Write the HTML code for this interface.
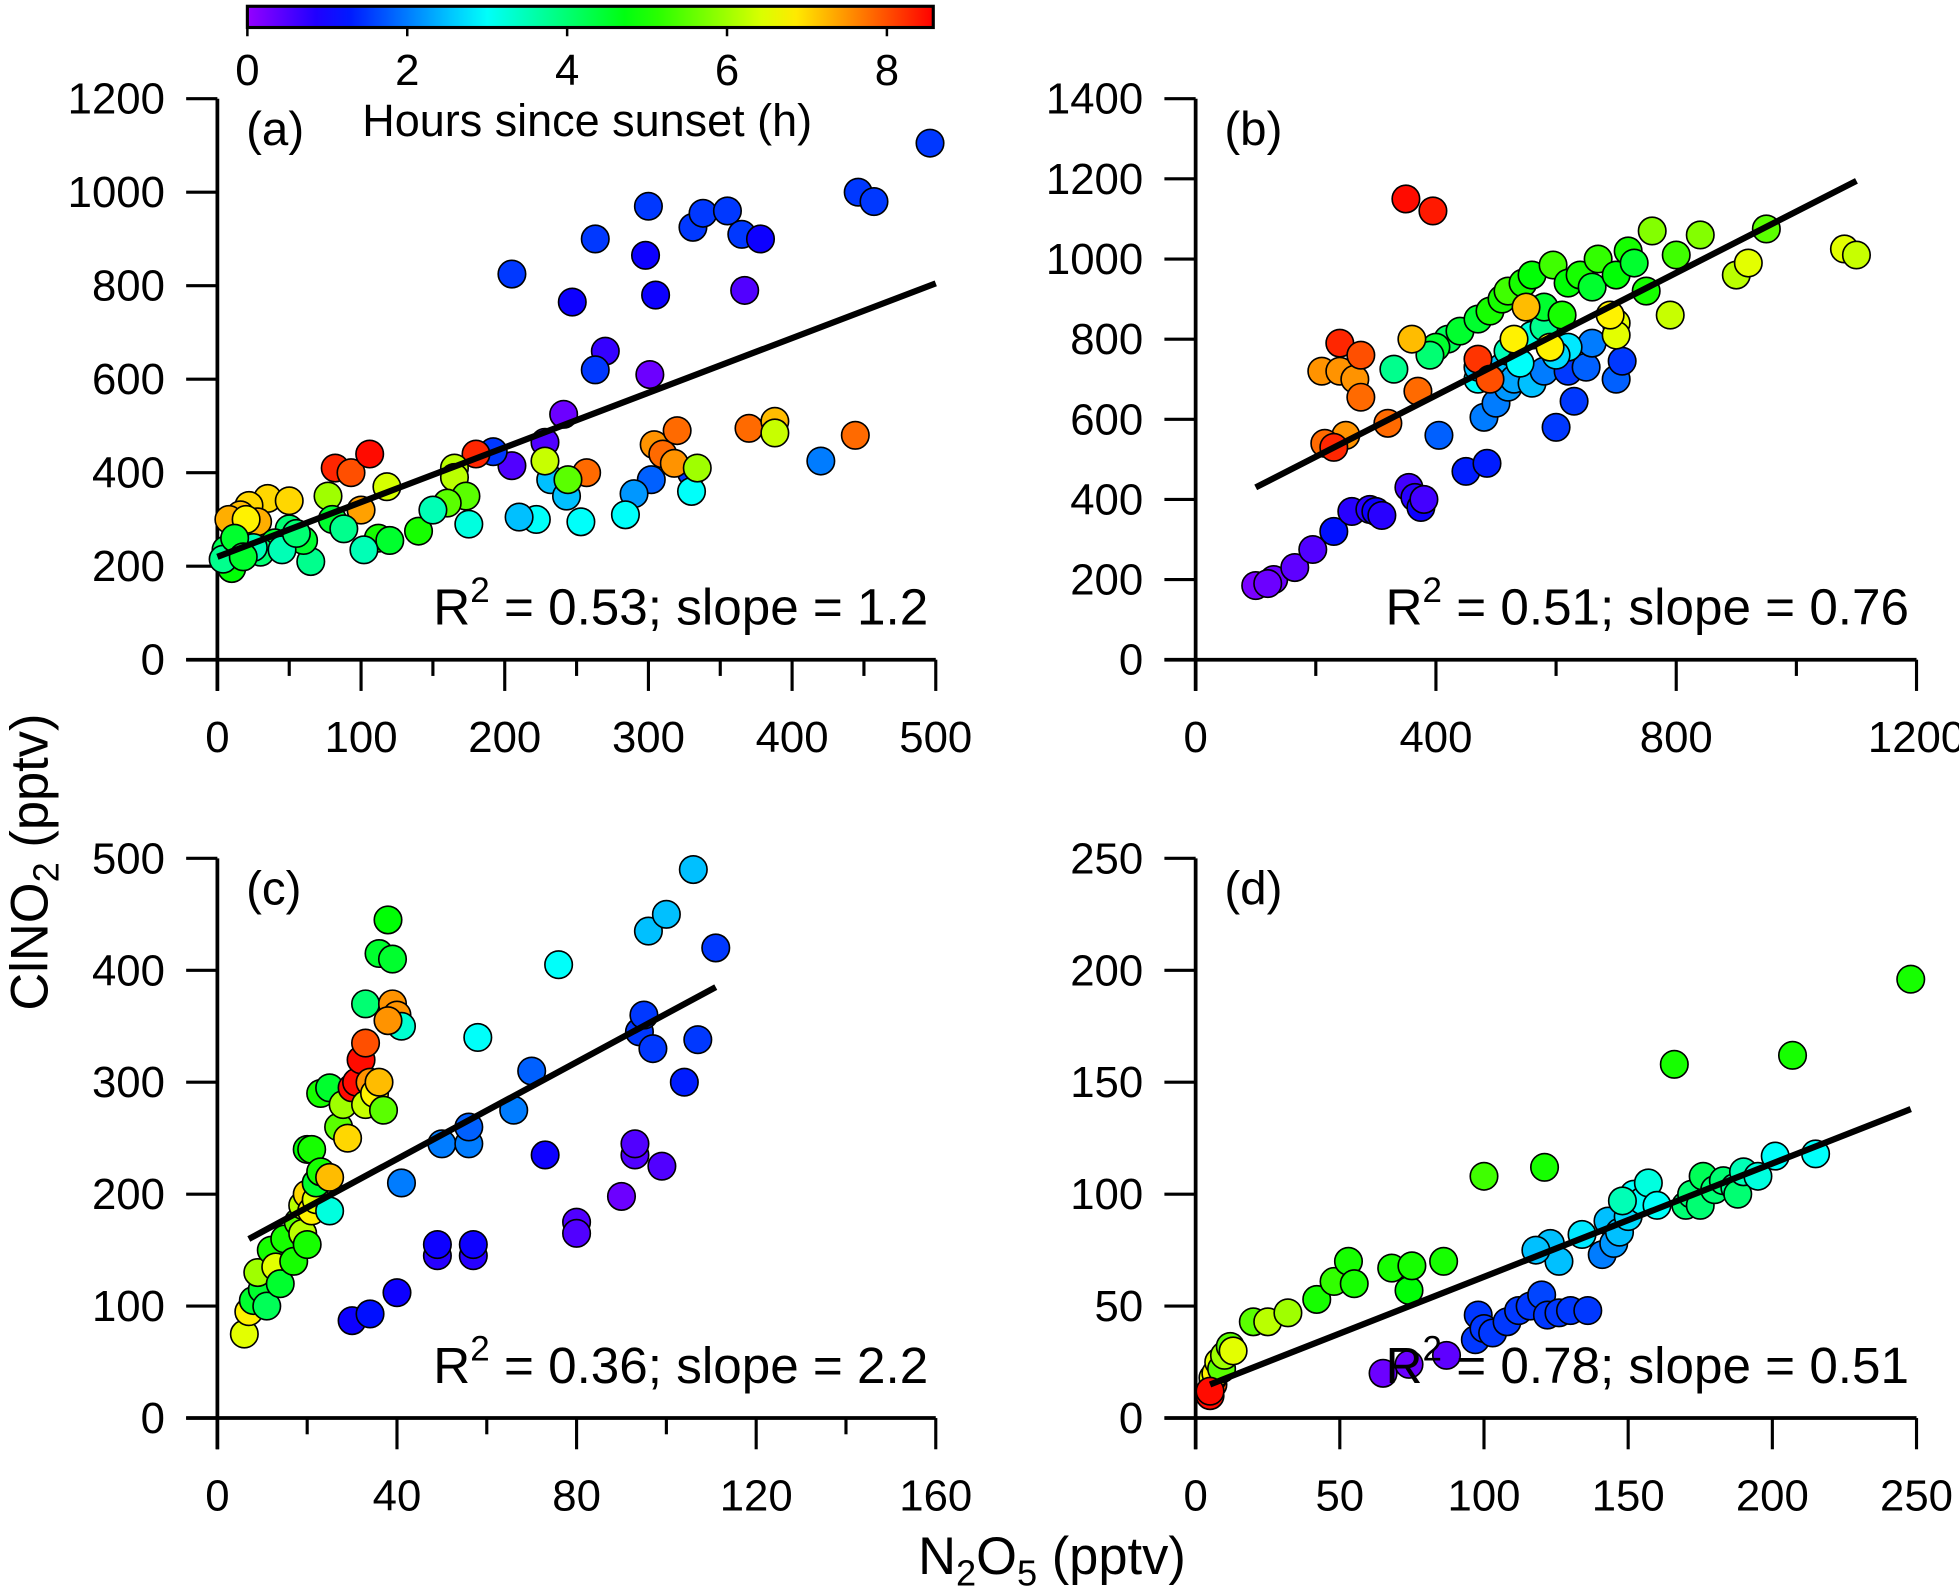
<!DOCTYPE html>
<html><head><meta charset="utf-8"><style>
html,body{margin:0;padding:0;background:#fff;}
svg{display:block;font-family:"Liberation Sans",Arial,sans-serif;}
</style></head><body>
<svg id="fig" width="1959" height="1588" viewBox="0 0 1568 1271" xmlns="http://www.w3.org/2000/svg">
<defs>
<linearGradient id="cbgrad" x1="0" x2="1" y1="0" y2="0"></linearGradient>
</defs>
<g id="cb"></g>
<g id="plots"></g>
<text transform="translate(38,690) rotate(-90)" text-anchor="middle" font-size="42">ClNO<tspan font-size="29" dy="9">2</tspan><tspan dy="-9"> (pptv)</tspan></text>
<text x="842" y="1260" text-anchor="middle" font-size="42">N<tspan font-size="29" dy="9">2</tspan><tspan dy="-9">O</tspan><tspan font-size="29" dy="9">5</tspan><tspan dy="-9"> (pptv)</tspan></text>
</svg>
<script>
// ---- data ----
const aX=[205,247,263,298,300,305,331,338,355,365,378,367,270,263,301,241,228,205,192,446,457,496,420,330,302,290,284,330,253,222,210,232,243,82,93,106,180,257,304,310,320,318,370,388,444,35,50,22,16,8,28,100,20,118,77,165,165,173,160,228,244,334,388,112,140,120,102,65,150,175,60,50,40,30,25,10,6,4,12,45,55,80,88,18];
const aY=[825,765,900,865,970,780,925,955,960,910,900,790,660,620,610,525,465,415,445,1000,980,1105,425,400,385,355,310,360,295,300,305,385,350,410,400,440,440,400,460,440,490,420,495,510,480,345,340,330,310,300,295,320,300,370,350,410,390,350,335,425,385,410,485,260,275,255,235,210,320,290,255,280,250,230,240,195,235,215,260,235,270,300,280,220];
const aH=[1.5,1,1.5,1,1.5,1,1.5,1.5,1.5,1.5,1,0.5,0.7,1.5,0.3,0.3,0.5,0.5,1.5,1.5,1.5,1.5,2,1.5,1.8,2.2,3,3,3,3,2.5,2.5,2.5,8.3,8,8.5,8.3,7.8,7.5,7.8,7.8,7.5,7.8,7.2,7.8,7,7,7,7.2,7.3,7.3,7.4,6.8,6.4,6,6.2,6.2,5.5,5.5,6.3,5.5,6,6.3,5,5,4.5,3.5,3.8,3.5,3.2,4.5,4,4.5,4,3.5,4.8,4.2,3.8,4.5,3.5,4,4.5,3.8,4.5];
const aFit=[[0,220],[500,805]];

const bX=[100,130,120,165,195,230,260,290,300,310,355,365,375,380,450,485,405,480,500,520,510,530,560,580,600,620,630,650,660,700,710,620,600,560,520,540,470,470,580,420,400,390,330,440,470,490,510,520,545,560,580,595,610,620,640,660,670,700,720,730,750,760,800,840,950,900,920,1080,1100,790,700,700,690,590,530,550,360,370,320,250,215,210,240,265,275,240,275,350,395,470,490,230];
const bY=[185,200,190,230,275,320,370,375,370,360,430,405,380,400,470,490,560,605,640,680,730,700,690,720,580,720,645,730,790,700,745,780,760,810,770,740,700,730,830,800,780,760,725,820,850,870,900,920,940,960,880,985,860,940,960,930,1000,960,1020,990,920,1070,1010,1060,1075,960,990,1025,1010,860,840,810,860,780,800,880,800,670,590,560,540,720,720,700,655,790,760,1150,1120,750,700,530];
const bH=[0.2,0.3,0.3,0.4,0.5,1.2,0.8,0.8,1,0.8,0.6,0.8,1,0.6,1.3,1.3,1.8,2,2,2.2,2.5,2.3,2.5,2,1.5,1.5,1.5,1.8,2,1.8,1.5,2.8,2.7,3.2,3.5,3,3,2.5,3.8,4.2,4.5,4,3.8,4.5,4.5,5,5,5.3,5,4.8,4.5,5.3,5,4.8,5,4.5,5.2,4.8,5,4.5,5,5.8,5.3,5.8,5.5,6.2,6.5,6.5,6.3,6.3,6.5,6.5,6.8,6.8,6.8,7.2,7.2,7.8,7.8,7.5,7.8,7.5,7.5,7.5,7.8,8.3,8,8.5,8.4,8.2,8,8.3];
const bFit=[[100,430],[1100,1195]];

const cX=[6,7,8,10,9,11,12,13,14,15,17,18,19,20,19,20,21,22,20,21,22,23,25,25,23,25,27,28,29,30,31,32,33,33,33,34,35,36,36,37,38,39,39,40,41,38,41,30,34,40,49,49,50,56,56,57,57,58,66,70,73,76,80,80,90,93,93,94,95,96,97,99,100,104,106,107,111];
const cY=[75,95,105,115,130,100,150,135,120,160,140,175,165,155,190,200,185,195,240,240,210,220,185,215,290,295,260,280,250,295,300,320,335,370,280,300,290,300,415,275,445,410,370,360,350,355,210,87,93,112,145,155,245,245,260,145,155,340,275,310,235,405,175,165,198,235,245,345,360,435,330,225,450,300,490,338,420];
const cH=[6.5,6.8,4.5,4.5,6,4.2,5,6.5,4.5,5,5,5.5,6.2,5,6.2,7,6.8,6.5,4.8,5,4.5,5,3.2,7.2,5,4.5,5.5,6,7,8.5,8.5,8.5,8,4,6.3,7.5,6.8,7.2,4.5,5.5,4.8,4.5,7.5,7.5,3.3,7.5,2,1,1.2,1,0.8,1,2,2,1.8,0.8,1,3,2,1.8,1,3,0.5,0.5,0.3,0.5,0.5,1.5,1.5,2.5,1.5,0.5,2.5,1.3,2.5,1.5,1.5];
const cFit=[[7,160],[111,385]];

const dX=[6,6,7,8,9,10,12,13,20,25,32,42,48,53,55,68,74,75,86,100,121,166,207,248,65,74,87,97,98,100,103,108,112,116,120,122,126,130,136,123,126,134,141,143,145,147,150,152,155,157,160,148,170,172,175,176,180,183,187,188,190,195,201,215,118,5,5];
const dY=[15,18,20,25,22,28,32,30,43,43,47,53,61,70,60,67,57,68,70,108,112,158,162,196,20,24,28,35,46,40,38,43,48,50,55,46,47,48,48,78,70,82,73,88,78,83,90,100,97,105,95,97,95,100,95,108,102,106,103,100,110,108,117,118,75,10,12];
const dH=[8,6.5,6.8,6.5,5.5,6,5.5,6.5,5.5,6.2,6,5,5.2,5,5,5,4.8,5,5,5.3,5,5,5,5,0.3,0.3,0.4,1.5,1.5,1.5,1.5,1.5,1.5,1.5,1.6,1.5,1.5,1.5,1.5,2.5,2.5,2.8,2,2.5,2.2,2.5,2.7,3,3,3.2,3,3.5,4,4,4,4.2,4,4,3.8,4,3.5,3.2,3,3,2.5,8.5,8.5];
const dFit=[[5,15],[248,138]];

const NS="http://www.w3.org/2000/svg";
function mk(tag,attrs,parent){const e=document.createElementNS(NS,tag);for(const k in attrs)e.setAttribute(k,attrs[k]);parent.appendChild(e);return e;}
const HMAX=8.58;
function col(h){const t=Math.max(0,Math.min(1,h/HMAX));return `hsl(${275-275*t},100%,50%)`;}

// colorbar
const cb=document.getElementById('cb');
const grad=document.getElementById('cbgrad');
for(let i=0;i<=20;i++){mk('stop',{offset:(i/20),'stop-color':col(i/20*HMAX)},grad);}
const cbX0=198,cbX1=747,cbY=5,cbH=17;
const cbr=mk('rect',{x:cbX0,y:cbY,width:cbX1-cbX0,height:cbH,fill:'url(#cbgrad)',stroke:'#000','stroke-width':2.5},cb);


[0,2,4,6,8].forEach(v=>{const x=cbX0+v/HMAX*(cbX1-cbX0);
 mk('line',{x1:x,x2:x,y1:cbY+cbH,y2:cbY+cbH+7,stroke:'#000','stroke-width':2},cb);
 const t=mk('text',{x:x,y:68,'text-anchor':'middle','font-size':35},cb);t.textContent=v;
 
 });
const cbt=mk('text',{x:470,y:109,'text-anchor':'middle','font-size':36},cb);cbt.textContent='Hours since sunset (h)';



function panel(o){
 const g=mk('g',{},document.getElementById('plots'));
 
 
 const sx=v=>o.x0+(v-o.xmin)/(o.xmax-o.xmin)*(o.x1-o.x0);
 const sy=v=>o.y0-(v-o.ymin)/(o.ymax-o.ymin)*(o.y0-o.y1);
 const ax=mk('line',{x1:o.x0-25,x2:o.x1,y1:o.y0,y2:o.y0,stroke:'#000','stroke-width':3},g);
 
 
 const ay=mk('line',{x1:o.x0,x2:o.x0,y1:o.y0+25,y2:o.y1,stroke:'#000','stroke-width':3},g);
 
 
 for(let v=o.xmin;v<=o.xmax+1e-9;v+=o.xminor){const major=Math.abs(v/o.xstep-Math.round(v/o.xstep))<1e-6;const x=sx(v);
  mk('line',{x1:x,x2:x,y1:o.y0,y2:o.y0+(major?25:13),stroke:'#000','stroke-width':2.5},g);
  if(major){const t=mk('text',{x:x,y:o.y0+74,'text-anchor':'middle','font-size':35},g);t.textContent=v;
   
   }}
 for(let v=o.ymin;v<=o.ymax+1e-9;v+=o.ystep){const y=sy(v);
  mk('line',{x1:o.x0,x2:o.x0-25,y1:y,y2:y,stroke:'#000','stroke-width':2.5},g);
  const t=mk('text',{x:o.x0-42,y:y+12,'text-anchor':'end','font-size':35},g);t.textContent=v;
  
  }
 const lab=mk('text',{x:o.x0+23,y:o.y1+37,'font-size':38},g);lab.textContent='('+o.id+')';
 
 
 for(let i=0;i<o.X.length;i++){
  const c=mk('circle',{cx:sx(o.X[i]),cy:sy(o.Y[i]),r:11,fill:col(o.H[i]),stroke:'#000','stroke-width':1.3},g);
  
  
 }
 const fl=mk('line',{x1:sx(o.F[0][0]),y1:sy(o.F[0][1]),x2:sx(o.F[1][0]),y2:sy(o.F[1][1]),stroke:'#000','stroke-width':5},g);
 
 
 const an=mk('text',{x:o.x1-6,y:o.y0-28,'text-anchor':'end','font-size':41},g);
 an.innerHTML='R<tspan font-size="28" dy="-18">2</tspan><tspan dy="18"> = '+o.r2+'; slope = '+o.slope+'</tspan>';
 
 
}
panel({id:'a',x0:174,x1:749,y0:528,y1:79,xmin:0,xmax:500,xstep:100,xminor:50,ymin:0,ymax:1200,ystep:200,X:aX,Y:aY,H:aH,F:aFit,r2:'0.53',slope:'1.2'});
panel({id:'b',x0:957,x1:1534,y0:528,y1:79,xmin:0,xmax:1200,xstep:400,xminor:200,ymin:0,ymax:1400,ystep:200,X:bX,Y:bY,H:bH,F:bFit,r2:'0.51',slope:'0.76'});
panel({id:'c',x0:174,x1:749,y0:1135,y1:687,xmin:0,xmax:160,xstep:40,xminor:20,ymin:0,ymax:500,ystep:100,X:cX,Y:cY,H:cH,F:cFit,r2:'0.36',slope:'2.2'});
panel({id:'d',x0:957,x1:1534,y0:1135,y1:687,xmin:0,xmax:250,xstep:50,xminor:50,ymin:0,ymax:250,ystep:50,X:dX,Y:dY,H:dH,F:dFit,r2:'0.78',slope:'0.51'});
</script>
</body></html>
